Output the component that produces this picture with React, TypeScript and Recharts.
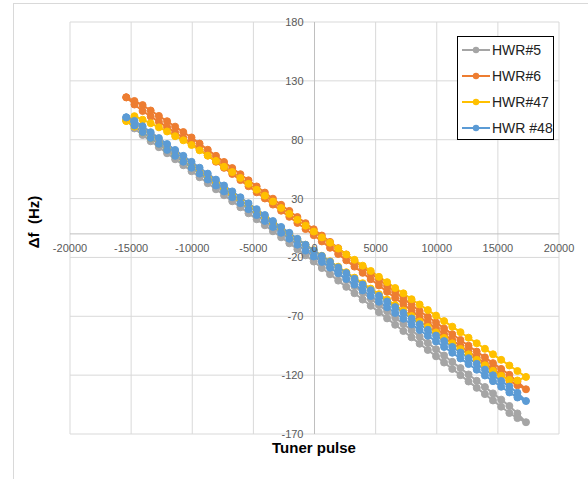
import React from "react";
import {
  LineChart,
  Line,
  XAxis,
  YAxis,
  CartesianGrid,
  ReferenceLine,
} from "recharts";

// tuner pulse positions (x), shared by all four HWR loops
const pulses = [
  -15400, -14730, -14060, -13400, -12730, -12060, -11400, -10730, -10060, -9400,
  -8730, -8060, -7400, -6730, -6060, -5400, -4730, -4060, -3400, -2730,
  -2060, -1400, -730, -60, 600, 1270, 1940, 2600, 3270, 3940,
  4600, 5270, 5940, 6600, 7270, 7940, 8600, 9270, 9940, 10600,
  11270, 11940, 12600, 13270, 13940, 14600, 15270, 15940, 16600, 17300,
];

// each series is a loop: one branch going right, the other coming back
const hwr5Upper = [
  97, 94.2, 89.6, 84.7, 79.6, 74.5, 69.4, 64.3, 59.2, 54.1,
  49, 43.9, 38.8, 33.7, 28.6, 23.5, 18.4, 13.3, 8.2, 3.1,
  -2, -7.1, -12.2, -17.5, -23, -28.3, -33.7, -39, -44.4, -49.8,
  -55.1, -60.5, -65.8, -71.2, -76.5, -81.9, -87.3, -92.6, -98, -103.3,
  -108.7, -114, -119.4, -124.8, -130.1, -135.5, -140.8, -146.2, -152.5, -160,
];
const hwr5Lower = [
  97, 89.6, 84, 78.7, 73.6, 68.5, 63.4, 58.3, 53.2, 48.1,
  43, 37.9, 32.8, 27.7, 22.6, 17.5, 12.4, 7.3, 2.2, -2.9,
  -8, -13.1, -18.2, -23.5, -29, -34.3, -39.7, -45, -50.4, -55.8,
  -61.1, -66.5, -71.8, -77.2, -82.5, -87.9, -93.3, -98.6, -104, -109.3,
  -114.7, -120, -125.4, -130.8, -136.1, -141.5, -146.8, -152.2, -156.5, -160,
];

const hwr6Upper = [
  116, 112.9, 109.4, 104.8, 100.2, 95.7, 91.1, 86.5, 81.9, 76.7,
  71.5, 66.3, 61.1, 55.9, 50.7, 45.5, 40.3, 35.1, 29.9, 24.7,
  19.5, 14.3, 9.1, 3.9, -1.4, -6.8, -12.1, -17.5, -22.8, -28.1,
  -33.5, -38.8, -44.2, -49.5, -54.8, -60.2, -65.5, -70.4, -75.3, -80.3,
  -85.2, -90.1, -95, -100, -104.9, -109.8, -114.7, -119.7, -125.6, -132,
];
const hwr6Lower = [
  116, 109.9, 104.4, 99.8, 95.2, 90.7, 86.1, 81.5, 76.9, 71.7,
  66.5, 61.3, 56.1, 50.9, 45.7, 40.5, 35.3, 30.1, 24.9, 19.7,
  14.5, 9.3, 4.1, -1.1, -6.4, -11.8, -17.1, -22.5, -27.8, -33.1,
  -38.5, -43.8, -49.2, -54.5, -59.8, -65.2, -70.5, -75.4, -80.3, -85.3,
  -90.2, -95.1, -100, -105, -109.9, -114.8, -119.7, -124.7, -128.6, -132,
];

const hwr47Upper = [
  96, 100, 97, 94, 90.5, 87, 83, 79.5, 75.5, 71,
  66.5, 62, 57, 52.5, 47.5, 42.5, 37.5, 32.5, 27.5, 22,
  17, 12, 7, 2, -3, -7.5, -12.5, -17.5, -22, -27,
  -31.5, -36.5, -41, -46, -50.5, -55.5, -60, -64.7, -69.4, -74.1,
  -78.8, -83.5, -88.2, -92.9, -97.6, -102.3, -107, -111.8, -116.5, -121.5,
];
const hwr47Lower = [
  96, 91.1, 86.3, 81.4, 76.5, 71.6, 66.8, 61.9, 57, 52.3,
  47.5, 42.8, 38.1, 33.3, 28.6, 23.9, 19.1, 14.4, 9.7, 4.9,
  0.2, -4.5, -9.3, -14, -18.6, -23.3, -27.9, -32.6, -37.2, -41.9,
  -46.5, -51.2, -55.8, -60.5, -65.1, -69.8, -74.4, -79.1, -83.7, -88.4,
  -93, -97.7, -102.3, -107, -111.6, -116.3, -120.5, -124, -124.5, -121.5,
];

const hwr48Upper = [
  99, 96, 91.4, 86.4, 81.4, 76.3, 71.3, 66.3, 61.2, 56.2,
  51.2, 46.1, 41.1, 36.1, 31.1, 26, 21, 16, 10.9, 5.9,
  0.9, -4.2, -9.2, -14.2, -18.8, -23.7, -28.5, -33.3, -38.1, -43,
  -47.8, -52.6, -57.4, -62.2, -67.1, -71.9, -76.7, -81.5, -86.4, -91.1,
  -96, -100.8, -105.6, -110.4, -115.3, -120.1, -124.9, -129.7, -135, -142,
];
const hwr48Lower = [
  99, 92, 86.4, 81.4, 76.4, 71.3, 66.3, 61.3, 56.2, 51.2,
  46.2, 41.1, 36.1, 31.1, 26.1, 21, 16, 11, 5.9, 0.9,
  -4.1, -9.2, -14.2, -19.2, -23.8, -28.7, -33.5, -38.3, -43.1, -48,
  -52.8, -57.6, -62.4, -67.2, -72.1, -76.9, -81.7, -86.5, -91.4, -96.1,
  -101, -105.8, -110.6, -115.4, -120.3, -125.1, -129.9, -134.7, -139, -142,
];

const xTicks = [-20000, -15000, -10000, -5000, 0, 5000, 10000, 15000, 20000];
const yTicks = [-170, -120, -70, -20, 30, 80, 130, 180];

// chart geometry
const W = 588;
const H = 479;
const M = { top: 22, right: 29, left: 50, bottom: 25 };
const AXIS_W = 20;
const AXIS_H = 20;
const PLOT_L = M.left + AXIS_W;
const PLOT_W = W - PLOT_L - M.right;
const PLOT_H = H - M.top - M.bottom - AXIS_H;
const X_MIN = -20000, X_MAX = 20000, Y_MIN = -170, Y_MAX = 180;
// axes cross at (0, 0) like in Excel
const X_ZERO_PX = PLOT_L + (PLOT_W * (0 - X_MIN)) / (X_MAX - X_MIN);
const Y_ZERO_PX = M.top + (PLOT_H * (Y_MAX - 0)) / (Y_MAX - Y_MIN);

const loop = (upper: number[], lower: number[]) => [
  ...pulses.map((p, i) => ({ x: p, y: upper[i] })),
  ...pulses
    .map((p, i) => ({ x: p, y: lower[i] }))
    .reverse()
    .slice(1),
];

const series = [
  { name: "HWR#5", color: "#A5A5A5", data: loop(hwr5Upper, hwr5Lower) },
  { name: "HWR#6", color: "#ED7D31", data: loop(hwr6Upper, hwr6Lower) },
  { name: "HWR#47", color: "#FFC000", data: loop(hwr47Upper, hwr47Lower) },
  { name: "HWR #48", color: "#5B9BD5", data: loop(hwr48Upper, hwr48Lower) },
];

const FONT = "'Liberation Sans', Arial, sans-serif";

const XTick = (props: any) => (
  <text
    x={props.x}
    y={Y_ZERO_PX + 18}
    textAnchor="middle"
    fontSize={11}
    fontFamily={FONT}
    fill="#595959"
  >
    {props.payload.value}
  </text>
);

const YTick = (props: any) => (
  <text
    x={X_ZERO_PX - 11}
    y={props.y + 4}
    textAnchor="end"
    fontSize={11}
    fontFamily={FONT}
    fill="#595959"
  >
    {props.payload.value}
  </text>
);

const LegendBox = () => (
  <div
    style={{
      position: "absolute",
      left: 457,
      top: 36,
      width: 97,
      height: 104,
      border: "1px solid #000",
      background: "#fff",
      fontFamily: FONT,
      fontSize: 14,
      color: "#222",
      boxSizing: "border-box",
    }}
  >
    {series.map((s) => (
      <div
        key={s.name}
        style={{
          display: "flex",
          alignItems: "center",
          height: 26,
          whiteSpace: "nowrap",
        }}
      >
        <svg width={31} height={10} style={{ marginLeft: 3, flex: "none" }}>
          <line x1={1} y1={5} x2={29} y2={5} stroke={s.color} strokeWidth={2} />
          <circle cx={15} cy={5} r={3.2} fill={s.color} />
        </svg>
        <span>{s.name}</span>
      </div>
    ))}
  </div>
);

export default function App() {
  return (
    <div
      style={{
        position: "absolute",
        left: 0,
        top: 0,
        width: W,
        height: H,
        background: "#fff",
        overflow: "hidden",
      }}
    >
      <div
        style={{
          position: "absolute",
          left: 13,
          top: 3,
          width: W,
          height: H,
          borderLeft: "1px solid #d9d9d9",
          borderTop: "1px solid #d9d9d9",
        }}
      />
      <LineChart width={W} height={H} margin={M}>
        <CartesianGrid stroke="#d9d9d9" strokeWidth={1} />
        <XAxis
          type="number"
          dataKey="x"
          domain={[X_MIN, X_MAX]}
          ticks={xTicks}
          height={AXIS_H}
          axisLine={false}
          tickLine={false}
          tick={XTick}
          interval={0}
          allowDataOverflow
        />
        <YAxis
          type="number"
          dataKey="y"
          domain={[Y_MIN, Y_MAX]}
          ticks={yTicks}
          width={AXIS_W}
          axisLine={false}
          tickLine={false}
          tick={YTick}
          interval={0}
          allowDataOverflow
        />
        <ReferenceLine y={0} stroke="#bfbfbf" strokeWidth={1} />
        <ReferenceLine x={0} stroke="#bfbfbf" strokeWidth={1} />
        {series.map((s) => (
          <Line
            key={s.name}
            data={s.data}
            dataKey="y"
            name={s.name}
            type="linear"
            stroke={s.color}
            strokeWidth={2}
            dot={{ r: 3.5, fill: s.color, stroke: s.color, strokeWidth: 1 }}
            activeDot={false}
            isAnimationActive={false}
          />
        ))}
      </LineChart>
      <LegendBox />
      <div
        style={{
          position: "absolute",
          left: 0,
          width: W - 40,
          top: 439,
          textAlign: "center",
          paddingLeft: 40,
          fontFamily: FONT,
          fontWeight: "bold",
          fontSize: 15,
          color: "#000",
        }}
      >
        Tuner pulse
      </div>
      <div
        style={{
          position: "absolute",
          left: 33,
          top: 222,
          transform: "translate(-50%, -50%) rotate(-90deg)",
          whiteSpace: "pre",
          fontFamily: FONT,
          fontWeight: "bold",
          fontSize: 15,
          color: "#000",
        }}
      >
        {"Δf  (Hz)"}
      </div>
    </div>
  );
}
